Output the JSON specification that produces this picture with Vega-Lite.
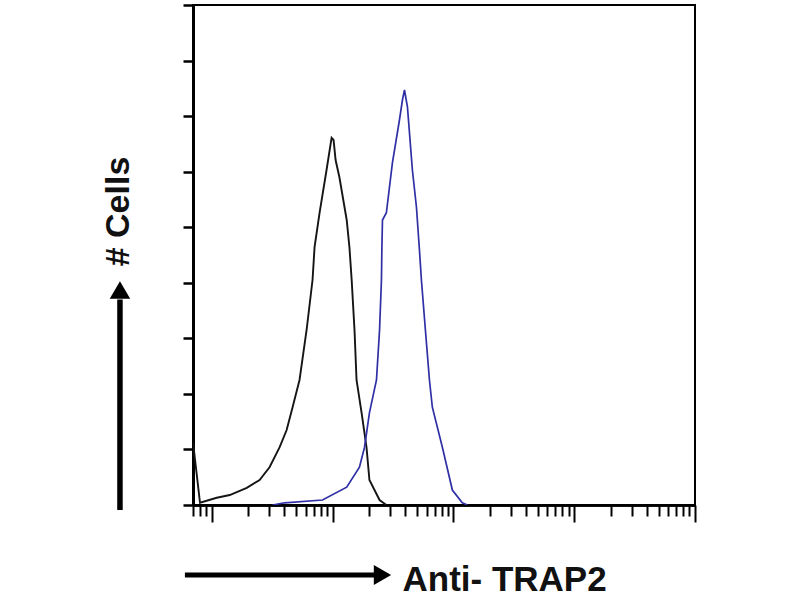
{
  "$schema": "https://vega.github.io/schema/vega-lite/v6.json",
  "autosize": "none",
  "width": 502,
  "height": 500,
  "padding": {"left": 193, "top": 5, "right": 105, "bottom": 95},
  "background": "white",
  "config": {
    "view": {"stroke": "black", "strokeWidth": 2},
    "axis": {"grid": false, "labels": false, "domainColor": "black", "tickColor": "black"}
  },
  "datasets": {
    "hist": [
      {"series": "isotype", "x": 0.7, "count": 11.3},
      {"series": "isotype", "x": 0.8, "count": 0.4},
      {"series": "isotype", "x": 1.1, "count": 1.3},
      {"series": "isotype", "x": 1.41, "count": 1.8},
      {"series": "isotype", "x": 1.95, "count": 3.1},
      {"series": "isotype", "x": 2.49, "count": 4.5},
      {"series": "isotype", "x": 3.01, "count": 6.8},
      {"series": "isotype", "x": 3.65, "count": 10.4},
      {"series": "isotype", "x": 4.17, "count": 13.5},
      {"series": "isotype", "x": 4.67, "count": 17.6},
      {"series": "isotype", "x": 5.33, "count": 22.5},
      {"series": "isotype", "x": 6.1, "count": 31.5},
      {"series": "isotype", "x": 6.83, "count": 40.5},
      {"series": "isotype", "x": 7.1, "count": 46.4},
      {"series": "isotype", "x": 7.81, "count": 52.6},
      {"series": "isotype", "x": 8.92, "count": 60.3},
      {"series": "isotype", "x": 9.82, "count": 66.1},
      {"series": "isotype", "x": 10.2, "count": 65.7},
      {"series": "isotype", "x": 10.6, "count": 62.1},
      {"series": "isotype", "x": 11.4, "count": 59.0},
      {"series": "isotype", "x": 13.1, "count": 51.3},
      {"series": "isotype", "x": 13.8, "count": 46.4},
      {"series": "isotype", "x": 14.4, "count": 40.5},
      {"series": "isotype", "x": 15.2, "count": 31.5},
      {"series": "isotype", "x": 15.8, "count": 22.5},
      {"series": "isotype", "x": 17.4, "count": 16.6},
      {"series": "isotype", "x": 19.1, "count": 10.4},
      {"series": "isotype", "x": 20.2, "count": 4.5},
      {"series": "isotype", "x": 24.5, "count": 0.9},
      {"series": "isotype", "x": 27.9, "count": 0},
      {"series": "TRAP2", "x": 3.19, "count": 0},
      {"series": "TRAP2", "x": 4.01, "count": 0.4},
      {"series": "TRAP2", "x": 8.26, "count": 0.9},
      {"series": "TRAP2", "x": 13.1, "count": 3.2},
      {"series": "TRAP2", "x": 16.7, "count": 6.8},
      {"series": "TRAP2", "x": 18.4, "count": 10.4},
      {"series": "TRAP2", "x": 20.2, "count": 16.6},
      {"series": "TRAP2", "x": 23.1, "count": 22.5},
      {"series": "TRAP2", "x": 24.5, "count": 31.5},
      {"series": "TRAP2", "x": 25.4, "count": 40.5},
      {"series": "TRAP2", "x": 25.6, "count": 45.9},
      {"series": "TRAP2", "x": 25.9, "count": 51.3},
      {"series": "TRAP2", "x": 27.9, "count": 52.6},
      {"series": "TRAP2", "x": 31.3, "count": 61.6},
      {"series": "TRAP2", "x": 35.8, "count": 69.3},
      {"series": "TRAP2", "x": 37.9, "count": 72.9},
      {"series": "TRAP2", "x": 39.4, "count": 74.7},
      {"series": "TRAP2", "x": 41.7, "count": 71.6},
      {"series": "TRAP2", "x": 45.8, "count": 60.3},
      {"series": "TRAP2", "x": 49.5, "count": 53.6},
      {"series": "TRAP2", "x": 52.4, "count": 45.9},
      {"series": "TRAP2", "x": 54.4, "count": 40.5},
      {"series": "TRAP2", "x": 58.7, "count": 31.5},
      {"series": "TRAP2", "x": 63.4, "count": 22.5},
      {"series": "TRAP2", "x": 67.0, "count": 17.6},
      {"series": "TRAP2", "x": 81.1, "count": 10.4},
      {"series": "TRAP2", "x": 98.1, "count": 2.7},
      {"series": "TRAP2", "x": 118.6, "count": 0.4},
      {"series": "TRAP2", "x": 130.5, "count": 0}
    ],
    "anchor": [{}]
  },
  "resolve": {"axis": {"x": "independent"}},
  "layer": [
    {
      "data": {"name": "hist"},
      "transform": [{"filter": "datum.series === 'isotype'"}],
      "mark": {"type": "line", "color": "#151515", "strokeWidth": 1.9, "clip": true},
      "encoding": {
        "x": {
          "field": "x", "type": "quantitative",
          "scale": {"type": "log", "domain": [0.7, 10000], "nice": false},
          "axis": {
            "orient": "bottom",
            "values": [0.7, 0.8, 0.9, 2, 3, 4, 5, 6, 7, 8, 9, 20, 30, 40, 50, 60, 70, 80, 90, 200, 300, 400, 500, 600, 700, 800, 900, 2000, 3000, 4000, 5000, 6000, 7000, 8000, 9000],
            "tickSize": 11, "tickWidth": 2, "domainWidth": 2.5,
            "title": "Anti- TRAP2",
            "titleFont": "Liberation Sans", "titleFontSize": 35, "titleFontWeight": "bold", "titleColor": "#111",
            "titleX": 209, "titleY": 85, "titleAlign": "left", "titleBaseline": "alphabetic", "titleAnchor": null
          }
        },
        "y": {
          "field": "count", "type": "quantitative",
          "scale": {"domain": [0, 90], "nice": false},
          "axis": {
            "values": [0, 10, 20, 30, 40, 50, 60, 70, 80, 90],
            "tickSize": 10, "tickWidth": 2.5, "domainWidth": 3,
            "title": "# Cells",
            "titleFont": "Liberation Sans", "titleFontSize": 34, "titleFontWeight": "bold", "titleColor": "#111",
            "titleAngle": 270, "titleX": -75, "titleY": 206, "titleAlign": "center", "titleBaseline": "middle"
          }
        }
      }
    },
    {
      "data": {"name": "hist"},
      "transform": [{"filter": "datum.series === 'TRAP2'"}],
      "mark": {"type": "line", "color": "#2f2fa6", "strokeWidth": 1.7, "clip": true},
      "encoding": {
        "x": {
          "field": "x", "type": "quantitative",
          "axis": {
            "orient": "bottom",
            "values": [1, 10, 100, 1000, 10000],
            "tickSize": 17, "tickWidth": 2, "domainWidth": 2.5,
            "title": null
          }
        },
        "y": {"field": "count", "type": "quantitative"}
      }
    },
    {
      "data": {"name": "anchor"},
      "mark": {"type": "rule", "color": "black", "strokeWidth": 5.5},
      "encoding": {
        "x": {"datum": 0.174, "type": "quantitative", "axis": null},
        "y": {"datum": -0.9, "type": "quantitative"},
        "y2": {"datum": 37.0}
      }
    },
    {
      "data": {"name": "anchor"},
      "mark": {"type": "point", "shape": "triangle-up", "filled": true, "color": "black", "opacity": 1, "size": 420},
      "encoding": {
        "x": {"datum": 0.174, "type": "quantitative", "axis": null},
        "y": {"datum": 38.7, "type": "quantitative"}
      }
    },
    {
      "data": {"name": "anchor"},
      "mark": {"type": "rule", "color": "black", "strokeWidth": 5},
      "encoding": {
        "x": {"datum": 0.6, "type": "quantitative", "axis": null},
        "x2": {"datum": 25.4},
        "y": {"datum": -12.6, "type": "quantitative"}
      }
    },
    {
      "data": {"name": "anchor"},
      "mark": {"type": "point", "shape": "triangle-right", "filled": true, "color": "black", "opacity": 1, "size": 400},
      "encoding": {
        "x": {"datum": 25.9, "type": "quantitative", "axis": null},
        "y": {"datum": -12.6, "type": "quantitative"}
      }
    }
  ]
}
